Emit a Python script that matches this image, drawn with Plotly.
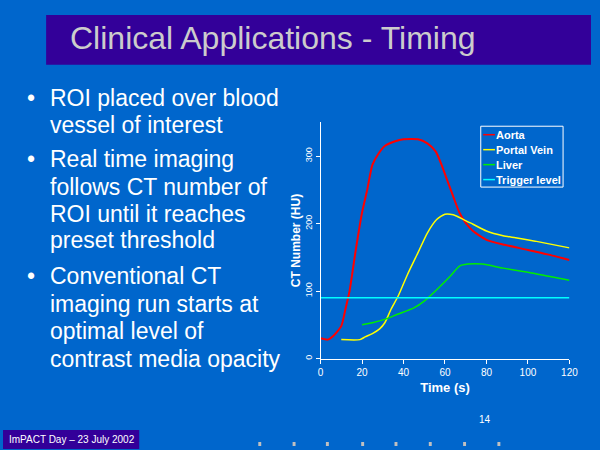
import plotly.graph_objects as go

# ---- data ----
aorta_t = [0, 3.5, 6, 10, 12, 14, 17, 20, 22.5, 25, 28, 31, 36, 40, 47, 51.5, 55.5, 58, 61, 64, 67, 70, 73.5, 80, 88, 100, 110, 120]
aorta_hu = [30, 28, 33, 48, 73, 100, 161, 216, 250, 287, 304, 315, 322, 325, 325, 319, 307, 290, 265, 240, 216, 201, 189, 176, 169, 161, 154, 146]

portal_t = [10, 19, 21.5, 25, 28.5, 31, 34, 37.5, 42, 47, 51.5, 56, 60, 64, 69, 73.5, 80, 88, 94, 103.5, 120]
portal_hu = [28, 28, 32, 37, 44, 53, 73, 93, 125, 157, 186, 206, 214, 213, 206, 199, 189, 182, 179, 174, 164]

liver_t = [20, 25, 31, 37.5, 45, 50, 56, 62.5, 67, 71, 78, 88, 100, 110, 120]
liver_hu = [50, 53, 58, 66, 75, 85, 102, 122, 137, 140, 140, 134, 128, 122, 116]

trigger_t = [0, 120]
trigger_hu = [90, 90]

series_names = ["Aorta", "Portal Vein", "Liver", "Trigger level"]
series_colors = ["#ff0000", "#ffff00", "#00ee00", "#00ffff"]

x_ticks = [0, 20, 40, 60, 80, 100, 120]
y_ticks = [0, 100, 200, 300]

title_text = "Clinical Applications - Timing"
bullets = [
    ["ROI placed over blood", "vessel of interest"],
    ["Real time imaging", "follows CT number of", "ROI until it reaches", "preset threshold"],
    ["Conventional CT", "imaging run starts at", "optimal level of", "contrast media opacity"],
]
footer_text = "ImPACT Day \u2013 23 July 2002"
page_number = "14"

BG = "#0066cc"
BAR = "#330099"
W, H = 600, 450
FONT = "Liberation Sans, Arial"

fig = go.Figure()
xs = [aorta_t, portal_t, liver_t, trigger_t]
ys = [aorta_hu, portal_hu, liver_hu, trigger_hu]
widths = [2, 1.5, 1.5, 1.5]
for name, col, x, y, w in zip(series_names, series_colors, xs, ys, widths):
    fig.add_trace(go.Scatter(x=x, y=y, mode="lines", name=name,
                             line=dict(color=col, width=w, shape="spline", smoothing=0.6),
                             hoverinfo="skip", showlegend=False))

axis_font = dict(family=FONT, color="white")
fig.update_layout(
    autosize=True,
    paper_bgcolor=BG, plot_bgcolor=BG,
    margin=dict(l=0, r=0, t=0, b=0),
    showlegend=False,
    xaxis=dict(domain=[324 / W, 578 / W], range=[0, 120], tickvals=x_ticks,
               showgrid=False, zeroline=False, showline=True, linecolor="white", linewidth=1,
               ticks="outside", tickcolor="white", ticklen=4,
               tickfont=dict(size=10, **axis_font),
               title=dict(text="Time (s)", font=dict(size=13, weight="bold", **axis_font), standoff=6)),
    yaxis=dict(domain=[(H - 359.3) / H, (H - 122.7) / H], range=[0, 350], tickvals=y_ticks,
               showgrid=False, zeroline=False, showline=True, linecolor="white", linewidth=1,
               ticks="outside", tickcolor="white", ticklen=4, tickangle=-90,
               tickfont=dict(size=9, **axis_font),
               title=dict(text="CT Number (HU)", font=dict(size=12, weight="bold", **axis_font), standoff=0)),
)

shapes = []
# title bar
shapes.append(dict(type="rect", xref="paper", yref="paper", x0=44 / W, x1=1, y0=1 - 65 / H, y1=1 - 15 / H,
                   fillcolor=BAR, line=dict(width=0), layer="below"))
# footer bar
shapes.append(dict(type="rect", xref="paper", yref="paper", x0=0, x1=139 / W, y0=0, y1=1 - 431 / H,
                   fillcolor=BAR, line=dict(width=0), layer="below"))
# small decorative squares along the bottom
for cx in [262, 297, 331, 367, 401, 436, 471, 506]:
    shapes.append(dict(type="rect", xref="paper", yref="paper", x0=(cx - 1.5) / W, x1=(cx + 1.5) / W,
                       y0=1 - 447 / H, y1=1 - 443 / H, fillcolor="#c0c0c0", line=dict(width=0)))

ann = []
# legend (box, sample lines, labels)
shapes.append(dict(type="rect", xref="paper", yref="paper", x0=487.5 / W, x1=571.5 / W,
                   y0=1 - 187.5 / H, y1=1 - 126.5 / H, fillcolor=BG, line=dict(color="white", width=1)))
for i, (name, col) in enumerate(zip(series_names, series_colors)):
    yy = 135 + 15 * i
    shapes.append(dict(type="line", xref="paper", yref="paper", x0=490 / W, x1=502 / W,
                       y0=1 - yy / H, y1=1 - yy / H, line=dict(color=col, width=1.5)))
    ann.append(dict(text=name, xref="paper", yref="paper", x=501 / W, y=1 - yy / H,
                    xanchor="left", yanchor="middle", showarrow=False,
                    font=dict(family=FONT, size=11, color="white", weight="bold")))
fig.update_layout(shapes=shapes)

ann.append(dict(text=title_text, xref="paper", yref="paper", x=66 / W, y=1 - 38 / H,
                xanchor="left", yanchor="middle", showarrow=False,
                font=dict(family=FONT, size=32, color="#cccccc")))
line_y = [[98, 125], [159, 187, 214, 241], [277, 305, 332, 360]]
for lines, ys_ in zip(bullets, line_y):
    ann.append(dict(text="\u2022", xref="paper", yref="paper", x=22 / W, y=1 - ys_[0] / H,
                    xanchor="left", yanchor="middle", showarrow=False,
                    font=dict(family=FONT, size=23, color="white")))
    for t, yy in zip(lines, ys_):
        ann.append(dict(text=t, xref="paper", yref="paper", x=46 / W, y=1 - yy / H,
                        xanchor="left", yanchor="middle", showarrow=False,
                        font=dict(family=FONT, size=23, color="white")))
ann.append(dict(text=footer_text, xref="paper", yref="paper", x=4 / W, y=1 - 440.5 / H,
                xanchor="left", yanchor="middle", showarrow=False,
                font=dict(family=FONT, size=10, color="white")))
ann.append(dict(text=page_number, xref="paper", yref="paper", x=492 / W, y=1 - 420.5 / H,
                xanchor="center", yanchor="middle", showarrow=False,
                font=dict(family=FONT, size=10, color="white")))
fig.update_layout(annotations=ann)

fig.write_html("out.html", config={"displayModeBar": False, "responsive": True},
               default_width="100vw", default_height="100vh",
               post_script="document.documentElement.style.overflow='hidden';"
                           "document.body.style.overflow='hidden';"
                           "document.body.style.margin='0';document.body.style.padding='0';"
                           "Plotly.Plots.resize(document.getElementById('{plot_id}'));")
